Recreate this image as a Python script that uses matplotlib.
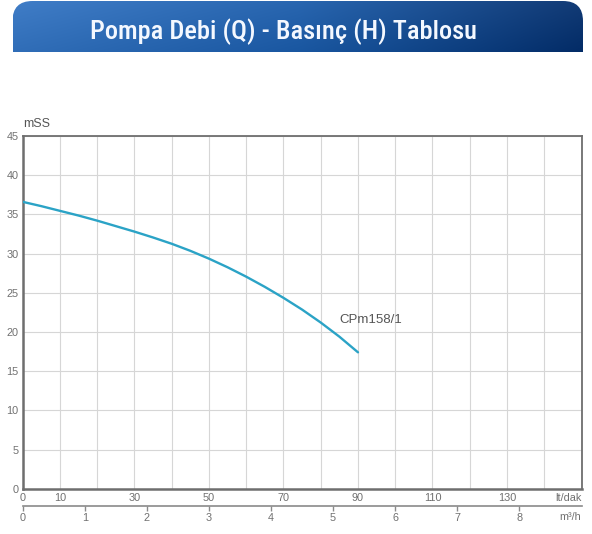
import numpy as np
import matplotlib
matplotlib.use('Agg')
import matplotlib.pyplot as plt
from matplotlib.patches import FancyBboxPatch

# values
flow_lt = [0, 5, 10, 15, 20, 25, 30, 35, 40, 45, 50, 55, 60, 65, 70, 75, 80, 85, 90]
head_m = [36.6, 36.05, 35.45, 34.85, 34.2, 33.5, 32.8, 32.05, 31.25, 30.35, 29.35,
          28.25, 27.05, 25.75, 24.35, 22.85, 21.2, 19.4, 17.4]
y_ticks = list(range(0, 46, 5))
x_grid = list(range(0, 151, 10))
x_labels = ['0', '10', '', '30', '', '50', '', '70', '', '90', '', '110', '', '130', '', '']
m3h_ticks = list(range(0, 9))
curve_name = 'CPm158/1'
title = 'Pompa Debi (Q) - Basınç (H) Tablosu'

W, H = 592, 534
plt.rcParams['font.family'] = ['Liberation Sans', 'DejaVu Sans']
fig = plt.figure(figsize=(W / 100, H / 100), dpi=100)

label_col = '#707070'
spine_col = '#6e6e6e'
fs = 7.8

# main plot
ax = fig.add_axes([22.7 / W, 1 - 488.7 / H, (581.5 - 22.7) / W, (488.7 - 136) / H])
ax.plot(flow_lt, head_m, color='#2ba3c6', lw=1.7, solid_capstyle='round', zorder=3)
ax.set_xlim(0, 150)
ax.set_ylim(0, 45)
ax.set_xticks(x_grid)
ax.set_xticklabels(x_labels)
ax.set_yticks(y_ticks)
ax.grid(color='#d6d6d6', lw=0.8)
ax.tick_params(length=0, labelsize=fs, labelcolor=label_col, pad=3)
for name, s in ax.spines.items():
    s.set_color(spine_col)
    s.set_linewidth(1.8 if name in ('left', 'bottom') else 1.3)

ax.annotate('lt/dak', xy=(1, 0), xycoords='axes fraction', xytext=(0, -3),
            textcoords='offset points', ha='right', va='top', fontsize=fs, color=label_col)
ax.annotate('mSS', xy=(0, 1), xycoords='axes fraction', xytext=(0, 4),
            textcoords='offset points', ha='left', va='bottom', fontsize=9, color='#555555')
ax.text(85, 21.5, curve_name, ha='left', va='center', fontsize=9.5, color='#555555')

# second flow scale in m3/h
sec_pos = -0.049
sec = ax.secondary_xaxis(sec_pos, functions=(lambda q: q * 0.06, lambda m: m / 0.06))
sec.set_xticks(m3h_ticks)
sec.spines['bottom'].set_color('#8a8a8a')
sec.spines['bottom'].set_linewidth(1.2)
sec.tick_params(length=3.5, width=1, color='#8a8a8a', labelsize=fs,
                labelcolor=label_col, pad=1.5)
ax.annotate('m³/h', xy=(1, sec_pos), xycoords='axes fraction', xytext=(0, -4.5),
            textcoords='offset points', ha='right', va='top', fontsize=fs, color=label_col)

# header banner
hw, hh = 583 - 12.5, 51.0
hdr = fig.add_axes([12.5 / W, 1 - 52 / H, hw / W, hh / H])
hdr.set_xlim(0, hw)
hdr.set_ylim(0, hh)
hdr.axis('off')

t = np.linspace(0, 1, 300)
left = np.array([0.22, 0.46, 0.75])
mid = np.array([0.13, 0.37, 0.66])
right = np.array([0.04, 0.20, 0.43])
row = np.where(t[:, None] < 0.5,
               left + (mid - left) * (t[:, None] / 0.5),
               mid + (right - mid) * ((t[:, None] - 0.5) / 0.5))
v = np.linspace(0.03, -0.03, 60)[:, None, None]
rgb = np.clip(row[None, :, :] + v, 0, 1)
im = hdr.imshow(rgb, extent=(0, hw, 0, hh), aspect='auto', origin='upper')
clip = FancyBboxPatch((0, -40), hw, hh + 40, boxstyle='round,pad=0,rounding_size=20',
                      transform=hdr.transData, facecolor='none', edgecolor='none')
hdr.add_patch(clip)
im.set_clip_path(clip)
hdr.text(283.5 - 12.5, hh - 38.3, title, ha='center', va='baseline', color='#f4f8ff',
         fontsize=19, fontweight='medium', fontstretch='condensed',
         family=['Roboto Condensed', 'Liberation Sans Narrow', 'DejaVu Sans'])

fig.savefig('out.png', dpi=100, facecolor='white')
